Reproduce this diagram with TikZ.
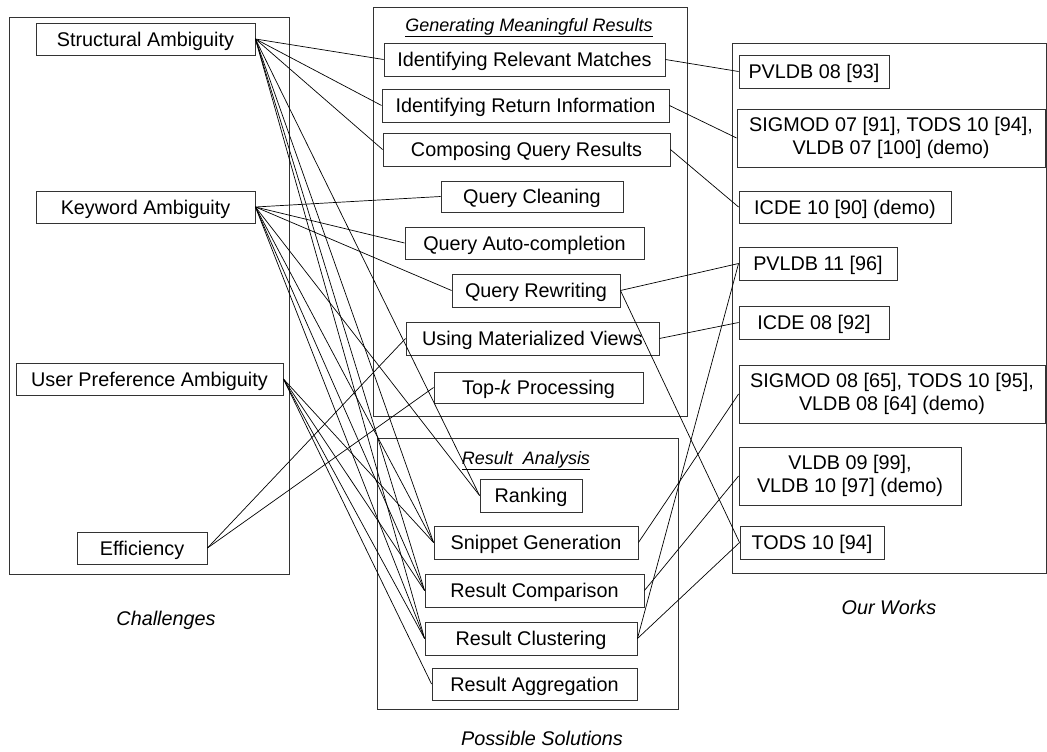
\documentclass[tikz,border=0pt]{standalone}
\usepackage{fontspec}
\setmainfont{Liberation Sans}
\begin{document}
\begin{tikzpicture}[x=1pt,y=-1pt,
  box/.style={draw=black!80, line width=0.9pt, inner sep=0pt, fill=white,
    font=\fontsize{19.8}{22.5}\selectfont, text height=14.2pt, text depth=0pt},
  box2/.style={draw=black!80, line width=0.9pt, inner sep=0pt, fill=white,
    font=\fontsize{19.8}{22.5}\selectfont, align=center},
  frame/.style={draw=black!80, line width=0.9pt},
  link/.style={line width=0.7pt},
  capt/.style={font=\fontsize{19.8}{23.5}\selectfont\itshape, text height=14.2pt, text depth=0pt},
  ttl/.style={font=\fontsize{18}{21}\selectfont\itshape, text height=12.9pt, text depth=0pt}]
\useasboundingbox (0,0) rectangle (1047,752);
% frames
\draw[frame] (9,17) rectangle (289,574);
\draw[frame] (373,7) rectangle (687,416);
\draw[frame] (377,438) rectangle (678,709);
\draw[frame] (732,43) rectangle (1046,573);
\node[ttl] (t1) at (529,25) {\underline{Generating Meaningful Results}};
\node[ttl] (t2) at (526,458) {\underline{Result\ \ Analysis}};
\node[capt] (c1) at (166,618) {Challenges};
\node[capt] (c2) at (542,738) {Possible Solutions};
\node[capt] (c3) at (889,607) {Our Works};
% challenges
\node[box, minimum width=219, minimum height=32] (sa) at (145.5,39) {Structural Ambiguity};
\node[box, minimum width=219, minimum height=32] (ka) at (145.5,207) {Keyword Ambiguity};
\node[box, minimum width=267, minimum height=32] (up) at (149.5,379) {User Preference Ambiguity};
\node[box, minimum width=130, minimum height=32] (ef) at (142,548) {Efficiency};
% solutions
\node[box, minimum width=281, minimum height=33] (irm) at (524.5,59.5) {Identifying Relevant Matches};
\node[box, minimum width=287, minimum height=33] (iri) at (525.5,105.5) {Identifying Return Information};
\node[box, minimum width=287, minimum height=33] (cqr) at (526.5,149.5) {Composing Query Results};
\node[box, minimum width=182, minimum height=31] (qc) at (532,196.5) {Query Cleaning};
\node[box, minimum width=239, minimum height=32] (qac) at (524.5,243) {Query Auto-completion};
\node[box, minimum width=168, minimum height=33] (qr) at (536,290.5) {Query Rewriting};
\node[box, minimum width=253, minimum height=33] (umv) at (532.5,338.5) {Using Materialized Views};
\node[box, minimum width=209, minimum height=31] (topk) at (538.5,387.5) {Top-\textit{k} Processing};
\node[box, minimum width=102, minimum height=33] (rank) at (531,495.5) {Ranking};
\node[box, minimum width=204, minimum height=33] (snip) at (536,542.5) {Snippet Generation};
\node[box, minimum width=219, minimum height=33] (comp) at (534.5,590.5) {Result Comparison};
\node[box, minimum width=212, minimum height=33] (clus) at (531,638.5) {Result Clustering};
\node[box, minimum width=205, minimum height=32] (agg) at (534.5,684) {Result Aggregation};
% works
\node[box, minimum width=150, minimum height=33] (r1) at (814,71.5) {PVLDB 08 [93]};
\node[box2, minimum width=308, minimum height=58] (r2) at (891,138) {SIGMOD 07 [91], TODS 10 [94],\\VLDB 07 [100] (demo)};
\node[box, minimum width=212, minimum height=32] (r3) at (845,207) {ICDE 10 [90] (demo)};
\node[box, minimum width=158, minimum height=33] (r4) at (818,263.5) {PVLDB 11 [96]};
\node[box, minimum width=150, minimum height=33] (r5) at (814,322.5) {ICDE 08 [92]};
\node[box2, minimum width=306, minimum height=58] (r6) at (892,394) {SIGMOD 08 [65], TODS 10 [95],\\VLDB 08 [64] (demo)};
\node[box2, minimum width=222, minimum height=58] (r7) at (850,476) {VLDB 09 [99],\\VLDB 10 [97] (demo)};
\node[box, minimum width=144, minimum height=33] (r8) at (812,542.5) {TODS 10 [94]};
% connectors: challenges -> solutions
\foreach \t in {irm,iri,cqr,rank,snip,comp,clus}
  \draw[link] (sa.east) -- (\t.west);
\foreach \t in {qc,qac,qr,rank,snip,comp,clus}
  \draw[link] (ka.east) -- (\t.west);
\foreach \t in {snip,comp,clus,agg}
  \draw[link] (up.east) -- (\t.west);
\foreach \t in {umv,topk}
  \draw[link] (ef.east) -- (\t.west);
% connectors: solutions -> works
\draw[link] (irm.east) -- (r1.west);
\draw[link] (iri.east) -- (r2.west);
\draw[link] (cqr.east) -- (r3.west);
\draw[link] (qr.east) -- (r4.west);
\draw[link] (umv.east) -- (r5.west);
\draw[link] (snip.east) -- (r6.west);
\draw[link] (comp.east) -- (r7.west);
\draw[link] (clus.east) -- (r8.west);
\draw[link] (qr.east) -- (r8.west);
\draw[link] (clus.east) -- (r4.west);
\end{tikzpicture}
\end{document}
